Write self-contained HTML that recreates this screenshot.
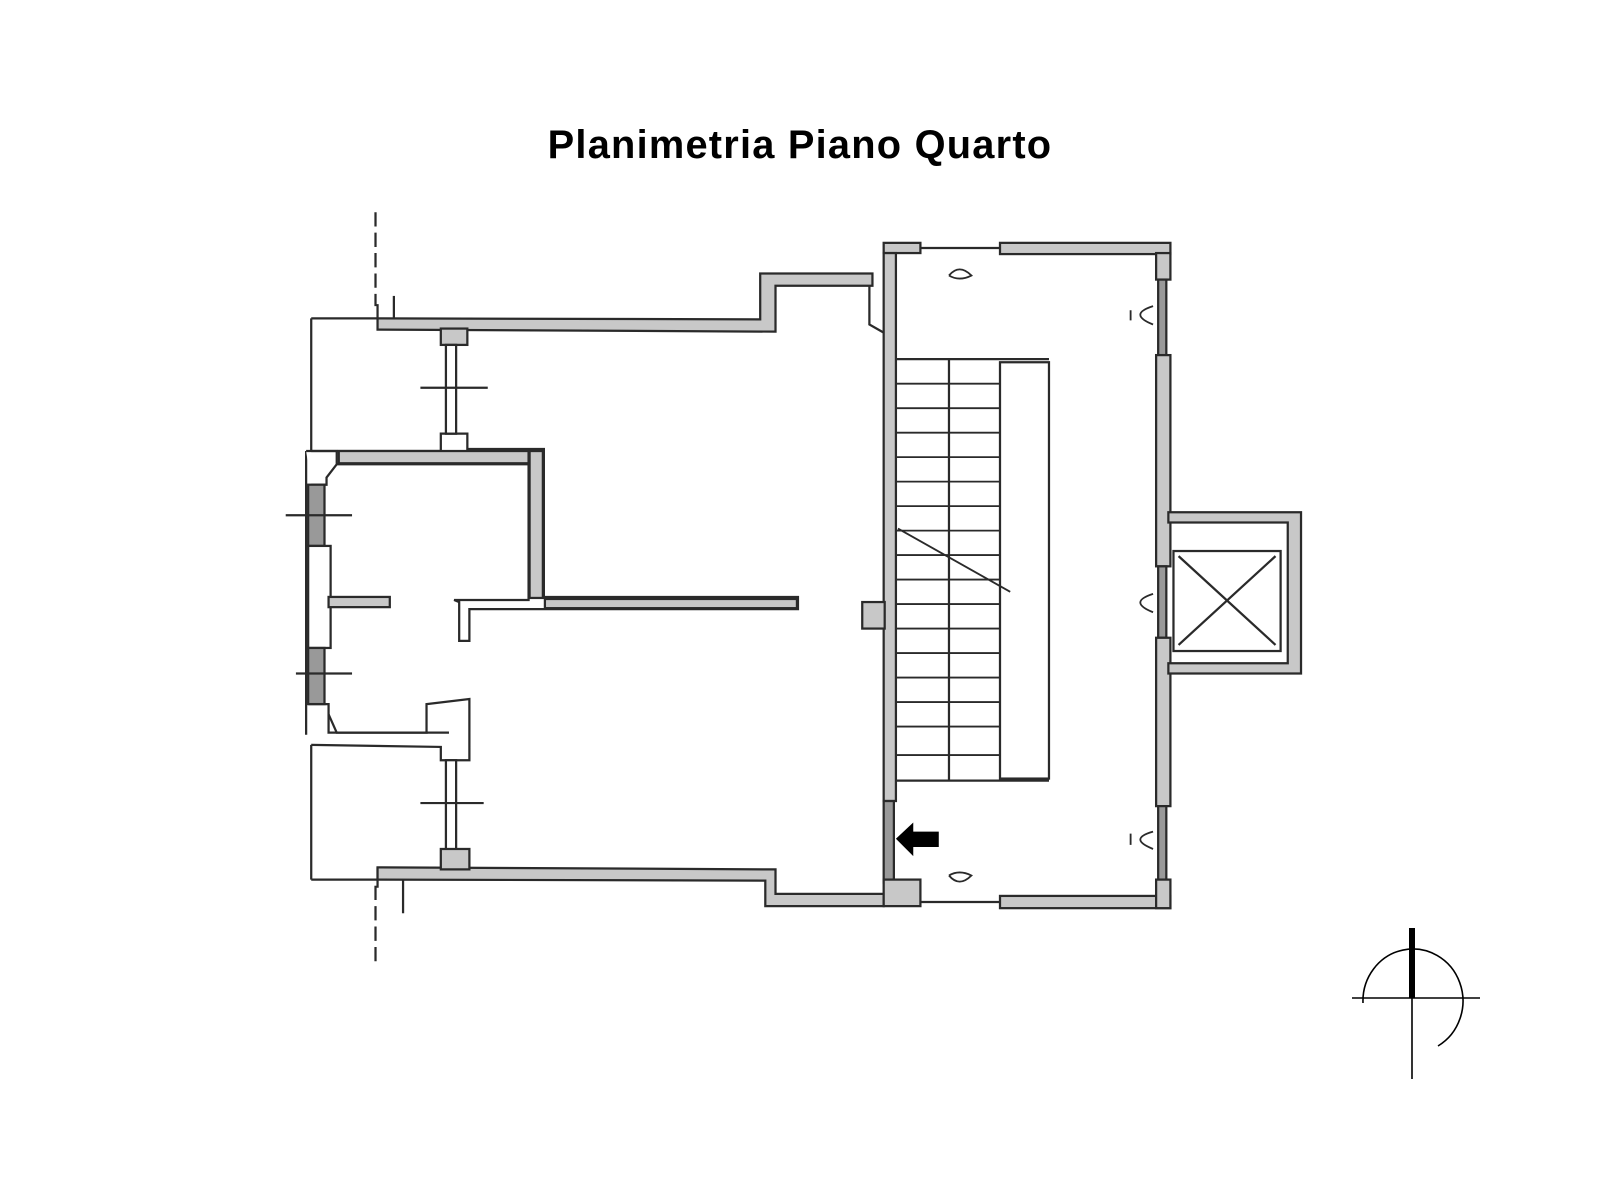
<!DOCTYPE html>
<html><head><meta charset="utf-8"><style>
html,body{margin:0;padding:0;background:#fff;width:1600px;height:1200px;overflow:hidden}
</style></head><body>
<svg width="1600" height="1200" viewBox="0 0 1568 1176" xmlns="http://www.w3.org/2000/svg">
<rect width="1568" height="1176" fill="#fff"/>
<text x="784" y="155" text-anchor="middle" font-family="Liberation Sans, sans-serif" font-weight="bold" font-size="39" letter-spacing="1.2" fill="#000">Planimetria Piano Quarto</text>
<g stroke="#2a2a2a" stroke-width="2.2" fill="#c8c8c8">
<!-- dashed lines -->
<line x1="368" y1="208" x2="368" y2="300" stroke-dasharray="14,6" fill="none"/>
<line x1="368" y1="868" x2="368" y2="945" stroke-dasharray="14,6" fill="none"/>
<!-- top left wall -->
<path d="M305,312 L370,312 L370,298" fill="none"/>
<path d="M370,312 L745,313 L745,268 L855,268 L855,280 L760,280 L760,325 L370,323 Z"/>
<path d="M386,290 L386,313" fill="none"/>
<path d="M852,280 L852,318 L866,326" fill="none"/>
<!-- left outer -->
<line x1="305" y1="312" x2="305" y2="442" fill="none"/>
<line x1="305" y1="730" x2="305" y2="862" fill="none"/>
<path d="M305,862 L370,862 L370,870 M370,850 L370,862" fill="none"/>
<path d="M370,850 L760,852 L760,876 L866,876 L866,888 L750,888 L750,863 L370,862 Z"/>
<path d="M395,895 L395,862" fill="none"/>
<!-- left window wall -->
<path d="M300,442 L300,720" fill="none"/>
<path d="M300,442 L330,442 L330,455 L320,468 L320,475 L305,475" fill="#fff"/>
<rect x="302" y="475" width="16" height="60" fill="#999"/>
<rect x="302" y="535" width="22" height="100" fill="#fff"/>
<rect x="302" y="635" width="16" height="55" fill="#999"/>
<path d="M302,690 L322,690 L322,718 L440,718" fill="none"/>
<line x1="280" y1="505" x2="345" y2="505"/>
<line x1="290" y1="660" x2="345" y2="660"/>
<!-- horizontal wall mid-left -->
<path d="M305,442 L432,442 L432,425 L458,425 L458,440 L533,440 L533,585 L782,585 L782,597 L460,597 L460,628 L450,628 L450,590 L445,588 L518,588 L518,455 L330,455" fill="none"/>
<rect x="322" y="585" width="60" height="10"/>
<rect x="534" y="587" width="247" height="9"/>
<rect x="519" y="442" width="13" height="144"/>
<rect x="332" y="442" width="186" height="12"/>
<!-- top door -->
<rect x="432" y="322" width="26" height="16"/>
<rect x="437" y="338" width="10" height="87" fill="#fff"/>
<line x1="412" y1="380" x2="478" y2="380"/>
<!-- lower bath -->
<path d="M305,730 L432,732 L432,745 L460,745 L460,685 L418,690 L418,718 L330,718 L322,700" fill="none"/>
<rect x="437" y="745" width="10" height="88" fill="#fff"/>
<line x1="412" y1="787" x2="474" y2="787"/>
<rect x="432" y="832" width="28" height="20"/>
<!-- stair block walls -->
<rect x="866" y="238" width="36" height="10"/>
<rect x="980" y="238" width="167" height="11"/>
<line x1="902" y1="243" x2="980" y2="243"/>
<rect x="866" y="248" width="12" height="537"/>
<rect x="866" y="785" width="10" height="80" fill="#999"/>
<rect x="866" y="862" width="36" height="26"/>
<rect x="980" y="878" width="167" height="12"/>
<line x1="902" y1="884" x2="980" y2="884"/>
<rect x="1133" y="248" width="14" height="26"/>
<rect x="1135" y="274" width="8" height="74" fill="#999"/>
<rect x="1133" y="348" width="14" height="207"/>
<rect x="1135" y="555" width="8" height="70" fill="#999"/>
<rect x="1133" y="625" width="14" height="165"/>
<rect x="1135" y="790" width="8" height="88" fill="#999"/>
<rect x="1133" y="862" width="14" height="28"/>
<rect x="845" y="590" width="22" height="26"/>
<!-- elevator -->
<path d="M1145,502 L1275,502 L1275,660 L1145,660 L1145,650 L1262,650 L1262,512 L1145,512 Z"/>
<rect x="1150" y="540" width="105" height="98" fill="#fff"/>
<line x1="1155" y1="545" x2="1250" y2="632" fill="none"/>
<line x1="1250" y1="545" x2="1155" y2="632" fill="none"/>
<!-- stair -->
<rect x="980" y="355" width="48" height="408" fill="#fff"/>
<line x1="878" y1="352" x2="1028" y2="352"/>
<line x1="878" y1="765" x2="1028" y2="765"/>
<line x1="930" y1="352" x2="930" y2="765"/>
</g>
<g stroke="#2a2a2a" stroke-width="1.8" fill="none">
<line x1="878" y1="376" x2="980" y2="376"/><line x1="878" y1="400" x2="980" y2="400"/>
<line x1="878" y1="424" x2="980" y2="424"/><line x1="878" y1="448" x2="980" y2="448"/>
<line x1="878" y1="472" x2="980" y2="472"/><line x1="878" y1="496" x2="980" y2="496"/>
<line x1="878" y1="520" x2="980" y2="520"/><line x1="878" y1="544" x2="980" y2="544"/>
<line x1="878" y1="568" x2="980" y2="568"/><line x1="878" y1="592" x2="980" y2="592"/>
<line x1="878" y1="616" x2="980" y2="616"/><line x1="878" y1="640" x2="980" y2="640"/>
<line x1="878" y1="664" x2="980" y2="664"/><line x1="878" y1="688" x2="980" y2="688"/>
<line x1="878" y1="712" x2="980" y2="712"/><line x1="878" y1="740" x2="980" y2="740"/>
<line x1="880" y1="518" x2="990" y2="580"/>
<path d="M930,270 Q940,258 952,270 Q940,276 930,270"/>
<path d="M930,858 Q940,870 952,858 Q940,852 930,858"/>
<path d="M1130,300 Q1105,308 1130,318 M1108,304 L1108,314"/>
<path d="M1130,582 Q1105,590 1130,600"/>
<path d="M1130,815 Q1105,822 1130,832 M1108,817 L1108,828"/>
</g>
<path d="M878,822 L895,806 L895,815 L920,815 L920,830 L895,830 L895,839 Z" fill="#000"/>
<g transform="scale(0.98)" stroke="#000" fill="none" stroke-width="1.6">
<line x1="1412" y1="928" x2="1412" y2="1079"/>
<line x1="1352" y1="998" x2="1480" y2="998"/>
<path d="M1363,1003 A50,52 0 1 1 1438,1046"/>
<rect x="1409" y="928" width="6" height="70" fill="#000" stroke="none"/>
</g>
</svg>
</body></html>
